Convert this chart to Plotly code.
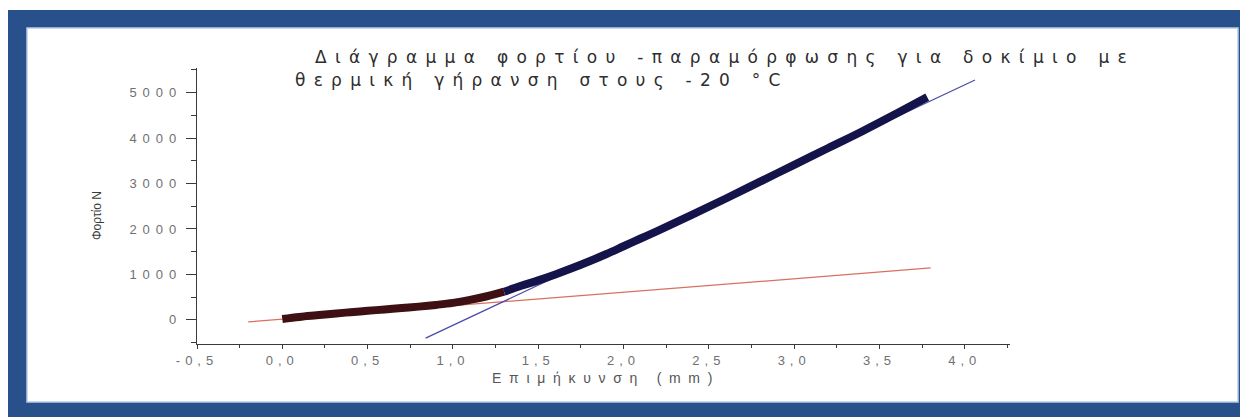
import plotly.graph_objects as go

# ---- data ----
curve_a_x = [0.0, 0.1, 0.2, 0.3, 0.4, 0.5, 0.6, 0.7, 0.8, 0.9, 1.0, 1.1, 1.2, 1.3]
curve_a_y = [20, 65, 100, 135, 170, 200, 230, 260, 292, 330, 375, 440, 520, 620]

curve_b_x = [1.3, 1.4, 1.5, 1.6, 1.7, 1.8, 1.9, 2.0, 2.1, 2.2, 2.4, 2.6, 2.8, 3.0, 3.2, 3.4, 3.6, 3.78]
curve_b_y = [620, 750, 870, 1000, 1140, 1290, 1450, 1620, 1790, 1960, 2310, 2670, 3040, 3410, 3780, 4150, 4540, 4900]

fit_low_x = [-0.2, 3.8]
fit_low_y = [-44, 1142]
fit_high_x = [0.84, 4.06]
fit_high_y = [-400, 5275]

x_tick_vals = [-0.5, 0.0, 0.5, 1.0, 1.5, 2.0, 2.5, 3.0, 3.5, 4.0]
x_tick_text = ["-0,5", "0,0", "0,5", "1,0", "1,5", "2,0", "2,5", "3,0", "3,5", "4,0"]
y_tick_vals = [0, 1000, 2000, 3000, 4000, 5000]
y_tick_text = ["0", "1000", "2000", "3000", "4000", "5000"]

title_line1 = "Διάγραμμα φορτίου -παραμόρφωσης για δοκίμιο με"
title_line2 = "θερμική γήρανση στους -20 °C"
x_title = "Επιμήκυνση (mm)"
y_title = "Φορτίο Ν"

# ---- layout geometry (window pixels; page body has an 8px margin) ----
OFF = 8
W, H = 1248 - OFF, 417 - OFF
L, R, T, B = 197, 1010, 68, 344   # plot area in window pixels


def px(x):
    return (x - L) / (R - L)


def py(y):
    return (B - y) / (B - T)


def spaced(t, s):
    return f"<span style='letter-spacing:{s}px'>{t}</span>"


fig = go.Figure()
# fitted tangent lines drawn first (under the measured curve)
fig.add_trace(go.Scatter(x=fit_low_x, y=fit_low_y, mode="lines",
                         line=dict(color="#d8705f", width=1.2), showlegend=False))
fig.add_trace(go.Scatter(x=fit_high_x, y=fit_high_y, mode="lines",
                         line=dict(color="#4a4aa8", width=1.2), showlegend=False))
fig.add_trace(go.Scatter(x=curve_a_x, y=curve_a_y, mode="lines",
                         line=dict(color="#3e1014", width=8, shape="spline"), showlegend=False))
fig.add_trace(go.Scatter(x=curve_b_x, y=curve_b_y, mode="lines",
                         line=dict(color="#14134a", width=8, shape="spline"), showlegend=False))

tickfont = dict(family="Liberation Sans, Arial", size=13, color="#707070")

fig.update_xaxes(range=[-0.5, 4.265], tickmode="array", tickvals=x_tick_vals,
                 ticktext=[spaced(t, 5) for t in x_tick_text],
                 showgrid=False, zeroline=False, showline=True, linecolor="#3a3a3a",
                 linewidth=1.2, ticks="outside", ticklen=4, tickcolor="#3a3a3a",
                 tickfont=tickfont,
                 minor=dict(dtick=0.25, tick0=-0.5, ticks="outside", ticklen=3,
                            tickcolor="#3a3a3a"))
fig.update_yaxes(range=[-530, 5540], tickmode="array", tickvals=y_tick_vals,
                 ticktext=[spaced(t, 6) for t in y_tick_text],
                 showgrid=False, zeroline=False, showline=True, linecolor="#3a3a3a",
                 linewidth=1.2, ticks="outside", ticklen=10, tickcolor="#3a3a3a",
                 tickfont=tickfont, ticklabelstandoff=1,
                 minor=dict(dtick=500, tick0=0, ticks="outside", ticklen=5,
                            tickcolor="#3a3a3a"))

blue = "#28508a"
shapes = [
    dict(type="rect", xref="paper", yref="paper", x0=px(8), x1=px(1260), y0=py(10), y1=py(430),
         fillcolor=blue, line=dict(width=0), layer="below"),
    dict(type="rect", xref="paper", yref="paper", x0=px(27), x1=px(1238), y0=py(28), y1=py(402),
         fillcolor="white", line=dict(color="#b8cbe4", width=1.5), layer="below"),
]

title_font = dict(family="DejaVu Sans", size=17, color="#2e2e2e")
annotations = [
    dict(text=spaced(title_line1, 8.3), xref="paper", yref="paper", x=px(313), y=py(57),
         xanchor="left", yanchor="middle", showarrow=False, font=title_font),
    dict(text=spaced(title_line2, 8.25), xref="paper", yref="paper", x=px(293), y=py(80),
         xanchor="left", yanchor="middle", showarrow=False, font=title_font),
    dict(text=spaced(x_title, 7.7), xref="paper", yref="paper", x=px(606), y=py(378),
         xanchor="center", yanchor="middle", showarrow=False,
         font=dict(family="Liberation Sans, Arial", size=14, color="#555555")),
    dict(text=y_title, xref="paper", yref="paper", x=px(97), y=py(216),
         xanchor="center", yanchor="middle", showarrow=False, textangle=-90,
         font=dict(family="Liberation Sans, Arial", size=12, color="#3a3a3a")),
]

fig.update_layout(width=W, height=H,
                  margin=dict(l=L - OFF, r=W - (R - OFF), t=T - OFF, b=H - (B - OFF)),
                  paper_bgcolor="white", plot_bgcolor="rgba(0,0,0,0)",
                  shapes=shapes, annotations=annotations, showlegend=False)

fig.write_html("out.html")
